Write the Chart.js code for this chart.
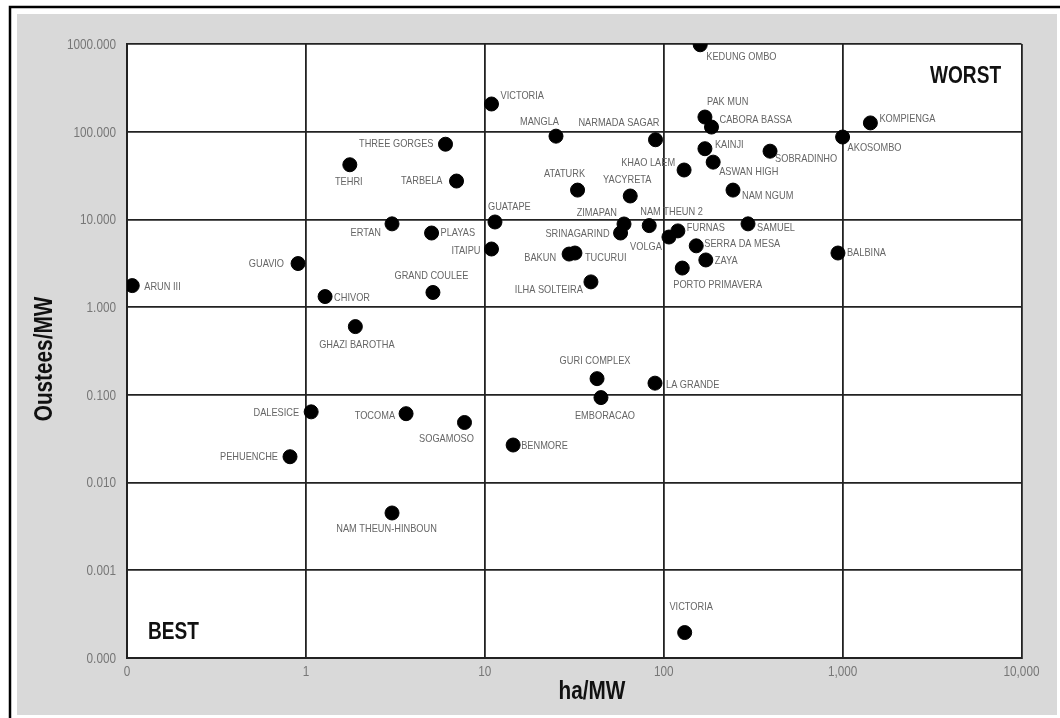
<!DOCTYPE html>
<html>
<head>
<meta charset="utf-8">
<script src="https://cdn.jsdelivr.net/npm/chart.js@4.4.1/dist/chart.umd.min.js"></script>
<style>
  html, body { margin: 0; padding: 0; background: #fff; }
  canvas { display: block; }
</style>
</head>
<body>
<canvas id="myChart" width="1060" height="718"></canvas>
<script>
"use strict";

// dams: flooded land per MW against people displaced per MW
const dams = [
  'KEDUNG OMBO', 'VICTORIA', 'MANGLA', 'NARMADA SAGAR', 'PAK MUN', 'CABORA BASSA',
  'KOMPIENGA', 'AKOSOMBO', 'THREE GORGES', 'TEHRI', 'TARBELA', 'KAINJI',
  'SOBRADINHO', 'ASWAN HIGH', 'KHAO LAEM', 'ATATURK', 'YACYRETA', 'NAM NGUM',
  'GUATAPE', 'ZIMAPAN', 'NAM THEUN 2', 'SRINAGARIND', 'VOLGA', 'FURNAS',
  'SAMUEL', 'SERRA DA MESA', 'ZAYA', 'PORTO PRIMAVERA', 'BALBINA', 'ERTAN',
  'PLAYAS', 'ITAIPU', 'BAKUN', 'TUCURUI', 'ILHA SOLTEIRA', 'GUAVIO',
  'ARUN III', 'CHIVOR', 'GRAND COULEE', 'GHAZI BAROTHA', 'GURI COMPLEX', 'EMBORACAO',
  'LA GRANDE', 'DALESICE', 'TOCOMA', 'SOGAMOSO', 'BENMORE', 'PEHUENCHE',
  'NAM THEUN-HINBOUN', 'VICTORIA'
];

const haPerMW = [
  160, 10.9, 25, 90, 170, 185,
  1430, 1000, 6.03, 1.76, 6.95, 170,
  393, 189, 130, 33, 65, 244,
  11.4, 60, 83, 57.4, 107, 120,
  296, 152, 172, 127, 942, 3.03,
  5.04, 10.9, 29.6, 31.9, 39.2, 0.904,
  0.107, 1.28, 5.13, 1.89, 42.4, 44.6,
  89.4, 1.07, 3.63, 7.7, 14.4, 0.815,
  3.03, 131
];

const ousteesPerMW = [
  980, 207, 89, 81, 147, 113,
  126, 87, 72, 42, 27.4, 64,
  60, 45, 36.6, 21.6, 18.5, 21.6,
  9.35, 8.87, 8.5, 7.0, 6.3, 7.4,
  8.9, 5.0, 3.45, 2.79, 4.14, 8.9,
  7.0, 4.6, 4.03, 4.14, 1.94, 3.14,
  1.76, 1.32, 1.47, 0.60, 0.153, 0.093,
  0.136, 0.064, 0.061, 0.0484, 0.0268, 0.0197,
  0.0045, 0.000195
];

const xTicks = [0.1, 1, 10, 100, 1000, 10000];
const xTickLabels = ['0', '1', '10', '100', '1,000', '10,000'];
const yTicks = [0.0001, 0.001, 0.01, 0.1, 1, 10, 100, 1000];
const yTickLabels = ['0.000', '0.001', '0.010', '0.100', '1.000', '10.000', '100.000', '1000.000'];

// where each name sits around its dot: [dx, dy, align]
const labelPos = [
  [6, 12, 'left'], [9, -8, 'left'], [3, -14, 'right'], [4, -17, 'right'], [2, -15, 'left'], [8, -7, 'left'],
  [9, -4, 'left'], [5, 11, 'left'], [-12, 0, 'right'], [-1, 17, 'center'], [-14, 0, 'right'], [10, -4, 'left'],
  [5, 8, 'left'], [6, 10, 'left'], [-9, -7, 'right'], [-13, -16, 'center'], [-3, -16, 'center'], [9, 6, 'left'],
  [-7, -15, 'left'], [-7, -11, 'right'], [-9, -14, 'left'], [-11, 1, 'right'], [-7, 10, 'right'], [9, -3, 'left'],
  [9, 4, 'left'], [8, -2, 'left'], [9, 1, 'left'], [-9, 17, 'left'], [9, 0, 'left'], [-11, 9, 'right'],
  [9, 0, 'left'], [-11, 2, 'right'], [-13, 4, 'right'], [10, 5, 'left'], [-8, 8, 'right'], [-14, 0, 'right'],
  [12, 1, 'left'], [9, 1, 'left'], [-1.5, -16, 'center'], [1.5, 18, 'center'], [-2, -18, 'center'], [4, 18, 'center'],
  [11, 2, 'left'], [-12, 1, 'right'], [-11, 2, 'right'], [-18, 16, 'center'], [8, 1, 'left'], [-12, 0, 'right'],
  [-5.5, 16, 'center'], [6.5, -26, 'center']
];

const sans = '"Liberation Sans", Arial, sans-serif';

// text squeezed sideways, like a narrow typeface
function narrowText(ctx, text, x, y, align, squeeze) {
  ctx.save();
  ctx.translate(x, y);
  ctx.scale(squeeze, 1);
  ctx.textAlign = align;
  ctx.fillText(text, 0, 0);
  ctx.restore();
}

// gray panel behind the white plot box
const panelPlugin = {
  id: 'panel',
  beforeDraw(chart) {
    const ctx = chart.ctx, a = chart.chartArea;
    ctx.save();
    ctx.fillStyle = '#fff';
    ctx.fillRect(0, 0, chart.width, chart.height);
    ctx.fillStyle = '#d9d9d9';
    ctx.fillRect(17, 14, 1040, 701);
    ctx.fillStyle = '#fff';
    ctx.fillRect(a.left, a.top, a.right - a.left, a.bottom - a.top);
    ctx.restore();
  }
};

// tick labels, dam names, corner notes, axis titles and the frame
const notesPlugin = {
  id: 'notes',
  afterDraw(chart) {
    const ctx = chart.ctx;
    const xs = chart.scales.x, ys = chart.scales.y;
    ctx.save();
    ctx.textBaseline = 'middle';

    ctx.fillStyle = '#777';
    ctx.font = '14px ' + sans;
    xTicks.forEach((v, i) => narrowText(ctx, xTickLabels[i], xs.getPixelForValue(v), 672, 'center', 0.84));
    yTicks.forEach((v, i) => narrowText(ctx, yTickLabels[i], 116, ys.getPixelForValue(v) + 1, 'right', 0.84));

    ctx.fillStyle = '#666';
    ctx.font = '11px ' + sans;
    chart.getDatasetMeta(0).data.forEach((pt, i) => {
      const [dx, dy, align] = labelPos[i];
      narrowText(ctx, dams[i], pt.x + dx, pt.y + dy, align, 0.84);
    });

    ctx.fillStyle = '#111';
    ctx.font = 'bold 23px ' + sans;
    narrowText(ctx, 'WORST', 930, 77, 'left', 0.83);
    narrowText(ctx, 'BEST', 148, 633, 'left', 0.83);

    ctx.font = 'bold 25px ' + sans;
    narrowText(ctx, 'ha/MW', 592, 692, 'center', 0.83);
    ctx.translate(45, 359);
    ctx.rotate(-Math.PI / 2);
    narrowText(ctx, 'Oustees/MW', 0, 0, 'center', 0.83);
    ctx.restore();

    ctx.save();
    ctx.strokeStyle = '#000';
    ctx.lineWidth = 2.5;
    ctx.beginPath();
    ctx.moveTo(10, 718);
    ctx.lineTo(10, 7);
    ctx.lineTo(1060, 7);
    ctx.stroke();
    ctx.restore();
  }
};

const config = {
  type: 'scatter',
  data: {
    datasets: [{
      data: dams.map((d, i) => ({ x: haPerMW[i], y: ousteesPerMW[i] })),
      backgroundColor: '#000',
      borderColor: '#000',
      pointRadius: 7,
      pointHoverRadius: 7
    }]
  },
  options: {
    responsive: false,
    animation: false,
    events: [],
    layout: { autoPadding: false, padding: { left: 0, top: 44, right: 38.5, bottom: 0 } },
    plugins: { legend: { display: false }, tooltip: { enabled: false } },
    scales: {
      x: {
        type: 'logarithmic',
        min: 0.1,
        max: 10000,
        afterBuildTicks: s => { s.ticks = xTicks.map(v => ({ value: v })); },
        afterFit: s => { s.height = 60; },
        grid: { color: '#222', lineWidth: 1.8, drawTicks: false },
        border: { color: '#222', width: 2 },
        ticks: { display: false }
      },
      y: {
        type: 'logarithmic',
        min: 0.0001,
        max: 1000,
        afterBuildTicks: s => { s.ticks = yTicks.map(v => ({ value: v })); },
        afterFit: s => { s.width = 127; },
        grid: { color: '#222', lineWidth: 1.8, drawTicks: false },
        border: { color: '#222', width: 2 },
        ticks: { display: false }
      }
    }
  },
  plugins: [panelPlugin, notesPlugin]
};

const my_chart = new Chart(document.getElementById('myChart'), config);
</script>
</body>
</html>
